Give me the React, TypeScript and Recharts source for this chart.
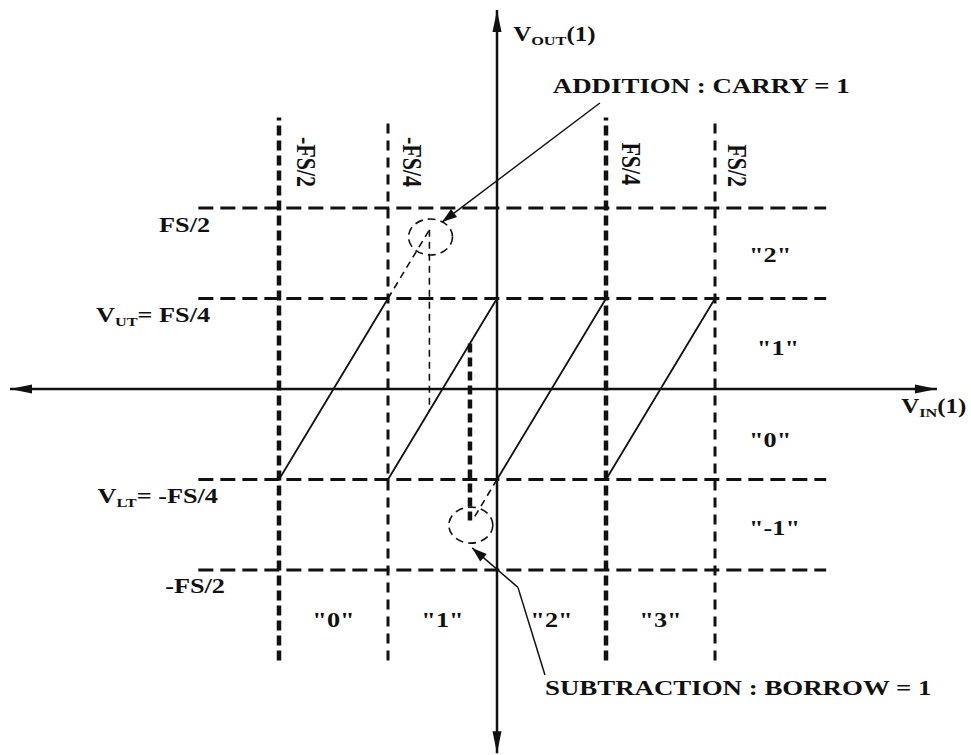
import React from 'react';
import { ComposedChart, Line, XAxis, YAxis, ReferenceLine, ReferenceDot } from 'recharts';

// All voltages in full-scale units (FS = 1)
const FS = 1;
const VLT = -FS / 4;
const VUT = FS / 4;

// Input decision thresholds and output reference levels
const vinThresholds = [-FS / 2, -FS / 4, FS / 4, FS / 2];
const vinThresholdLabels = ['-FS/2', '-FS/4', 'FS/4', 'FS/2'];
const voutLevels = [FS / 2, FS / 4, -FS / 4, -FS / 2];
const voutLevelLabels = ['FS/2', 'VUT', 'VLT', '-FS/2'];

// Residue ramps (gain 2) between VLT and VUT
const ramp1 = [{ vin: -0.5, vout: VLT }, { vin: -0.25, vout: VUT }];
const ramp2 = [{ vin: -0.25, vout: VLT }, { vin: 0, vout: VUT }];
const ramp3 = [{ vin: 0, vout: VLT }, { vin: 0.25, vout: VUT }];
const ramp4 = [{ vin: 0.25, vout: VLT }, { vin: 0.5, vout: VUT }];

// Overflow (carry) and underflow (borrow) excursions
const carryOvershoot = [{ vin: -0.25, vout: 0.25 }, { vin: -0.155, vout: 0.44 }];
const carryReturn = [{ vin: -0.155, vout: 0.44 }, { vin: -0.155, vout: -0.06 }];
const borrowUndershoot = [{ vin: 0, vout: -0.25 }, { vin: -0.055, vout: -0.36 }];
const borrowSource = [{ vin: -0.062, vout: 0.126 }, { vin: -0.062, vout: -0.37 }];
const carryCircle = { vin: -0.1525, vout: 0.42 };
const borrowCircle = { vin: -0.06, vout: -0.376 };

// Digital codes
const columnCodes = ['"0"', '"1"', '"2"', '"3"'];
const columnCodeVin = [-0.375, -0.125, 0.125, 0.375];
const rowCodes = ['"2"', '"1"', '"0"', '"-1"'];

// ---- layout ----
const W = 971;
const H = 755;
const X_DOMAIN: [number, number] = [-1.125, 1.0625];
const Y_DOMAIN: [number, number] = [-1.01, 1.06];
const MARGIN = { top: 5.28, right: 10.75, bottom: 0.38, left: 6.5 };
const INK = '#111';
const FONT = '"Liberation Serif", "Times New Roman", serif';
const STRETCH = 1.25;

const gridVStyle = [
  { w: 4.5, dash: '10 5' },
  { w: 3, dash: '10 7' },
  { w: 4.5, dash: '10 5' },
  { w: 3, dash: '10 7' },
];
const gridVExtent: [number, number] = [-0.75, 0.75];
const gridHExtent: [number, number] = [-0.685, 0.755];

const thresholdLabelPos = [
  { vin: -0.459, vout: 0.558 },
  { vin: -0.216, vout: 0.558 },
  { vin: 0.287, vout: 0.563 },
  { vin: 0.53, vout: 0.558 },
];
const levelLabelPos = [
  { vin: -0.658, vout: 0.434 },
  { vin: -0.658, vout: 0.185 },
  { vin: -0.64, vout: -0.315 },
  { vin: -0.624, vout: -0.564 },
];
const rowCodePos = [
  { vin: 0.578, vout: 0.351 },
  { vin: 0.596, vout: 0.094 },
  { vin: 0.578, vout: -0.16 },
  { vin: 0.578, vout: -0.403 },
];
const columnCodeVout = -0.657;

function headPoints(xt: number, yt: number, xf: number, yf: number, len: number, half: number) {
  const dx = xt - xf;
  const dy = yt - yf;
  const d = Math.hypot(dx, dy) || 1;
  const ux = dx / d;
  const uy = dy / d;
  const bx = xt - ux * len;
  const by = yt - uy * len;
  return `${xt},${yt} ${bx - uy * half},${by + ux * half} ${bx + uy * half},${by - ux * half}`;
}

const arrowLine = (opts: { start?: boolean; end?: boolean; len: number; half: number }) => (p: any) => {
  const { x1, y1, x2, y2, stroke, strokeWidth } = p;
  return (
    <g>
      <line x1={x1} y1={y1} x2={x2} y2={y2} stroke={stroke} strokeWidth={strokeWidth} />
      {opts.end && <polygon points={headPoints(x2, y2, x1, y1, opts.len, opts.half)} fill={stroke} />}
      {opts.start && <polygon points={headPoints(x1, y1, x2, y2, opts.len, opts.half)} fill={stroke} />}
    </g>
  );
};

const textShape =
  (content: React.ReactNode, anchor: 'start' | 'middle' | 'end', size: number, rotate = false) =>
  (p: any) => (
    <g transform={`translate(${p.cx},${p.cy}) scale(${STRETCH},1)${rotate ? ' rotate(90)' : ''}`}>
      <text
        x={0}
        y={0}
        textAnchor={anchor}
        fontFamily={FONT}
        fontWeight="bold"
        fontSize={size}
        fill={INK}
      >
        {content}
      </text>
    </g>
  );

const subscripted = (main: string, sub: string, rest: string) => (
  <>
    <tspan>{main}</tspan>
    <tspan fontSize={13} dy={4}>
      {sub}
    </tspan>
    <tspan dy={-4}>{rest}</tspan>
  </>
);

const levelLabelContent = (label: string) => {
  if (label === 'VUT') return subscripted('V', 'UT', '= FS/4');
  if (label === 'VLT') return subscripted('V', 'LT', '= -FS/4');
  return label;
};

const ellipseShape = (p: any) => (
  <ellipse
    cx={p.cx}
    cy={p.cy}
    rx={22}
    ry={18}
    fill="none"
    stroke={INK}
    strokeWidth={1.6}
    strokeDasharray="8 5"
  />
);

export default function App() {
  const rampSeries = [ramp1, ramp2, ramp3, ramp4];
  return (
    <div style={{ position: 'absolute', left: 0, top: 0, width: W, height: H, background: '#fff' }}>
      <ComposedChart width={W} height={H} margin={MARGIN}>
        <XAxis
          type="number"
          dataKey="vin"
          domain={X_DOMAIN}
          allowDataOverflow
          hide
        />
        <YAxis type="number" dataKey="vout" domain={Y_DOMAIN} allowDataOverflow hide />

        {/* grid of thresholds */}
        {vinThresholds.map((v, i) => (
          <ReferenceLine
            key={`gv${i}`}
            segment={[
              { x: v, y: gridVExtent[0] },
              { x: v, y: gridVExtent[1] },
            ]}
            stroke={INK}
            strokeWidth={gridVStyle[i].w}
            strokeDasharray={gridVStyle[i].dash}
          />
        ))}
        {voutLevels.map((v, i) => (
          <ReferenceLine
            key={`gh${i}`}
            segment={[
              { x: gridHExtent[0], y: v },
              { x: gridHExtent[1], y: v },
            ]}
            stroke={INK}
            strokeWidth={3}
            strokeDasharray="15 7"
          />
        ))}

        {/* axes with arrowheads */}
        <ReferenceLine
          segment={[
            { x: -1.117, y: 0 },
            { x: 1.009, y: 0 },
          ]}
          stroke={INK}
          strokeWidth={2.5}
          shape={arrowLine({ start: true, end: true, len: 22, half: 4.5 })}
        />
        <ReferenceLine
          segment={[
            { x: 0, y: -1.006 },
            { x: 0, y: 1.047 },
          ]}
          stroke={INK}
          strokeWidth={2.5}
          shape={arrowLine({ start: true, end: true, len: 22, half: 4.5 })}
        />

        {/* residue transfer characteristic */}
        {rampSeries.map((d, i) => (
          <Line
            key={`ramp${i}`}
            data={d}
            dataKey="vout"
            type="linear"
            stroke={INK}
            strokeWidth={1.8}
            dot={false}
            activeDot={false}
            isAnimationActive={false}
          />
        ))}
        <Line
          data={carryOvershoot}
          dataKey="vout"
          type="linear"
          stroke={INK}
          strokeWidth={1.6}
          strokeDasharray="7 5"
          dot={false}
          activeDot={false}
          isAnimationActive={false}
        />
        <Line
          data={carryReturn}
          dataKey="vout"
          type="linear"
          stroke={INK}
          strokeWidth={1.6}
          strokeDasharray="7 5"
          dot={false}
          activeDot={false}
          isAnimationActive={false}
        />
        <Line
          data={borrowUndershoot}
          dataKey="vout"
          type="linear"
          stroke={INK}
          strokeWidth={1.6}
          strokeDasharray="7 5"
          dot={false}
          activeDot={false}
          isAnimationActive={false}
        />
        <Line
          data={borrowSource}
          dataKey="vout"
          type="linear"
          stroke={INK}
          strokeWidth={4.5}
          strokeDasharray="9 5"
          dot={false}
          activeDot={false}
          isAnimationActive={false}
        />

        <ReferenceDot x={carryCircle.vin} y={carryCircle.vout} shape={ellipseShape} />
        <ReferenceDot x={borrowCircle.vin} y={borrowCircle.vout} shape={ellipseShape} />

        {/* callouts */}
        <ReferenceLine
          segment={[
            { x: 0.236, y: 0.79 },
            { x: -0.126, y: 0.461 },
          ]}
          stroke={INK}
          strokeWidth={1.5}
          shape={arrowLine({ end: true, len: 15, half: 5 })}
        />
        <ReferenceLine
          segment={[
            { x: 0.11, y: -0.79 },
            { x: 0.048, y: -0.548 },
          ]}
          stroke={INK}
          strokeWidth={1.5}
        />
        <ReferenceLine
          segment={[
            { x: 0.048, y: -0.548 },
            { x: -0.057, y: -0.439 },
          ]}
          stroke={INK}
          strokeWidth={1.5}
          shape={arrowLine({ end: true, len: 15, half: 5 })}
        />

        {/* labels */}
        {vinThresholdLabels.map((t, i) => (
          <ReferenceDot
            key={`tl${i}`}
            x={thresholdLabelPos[i].vin}
            y={thresholdLabelPos[i].vout}
            shape={textShape(t, 'end', 22, true)}
          />
        ))}
        {voutLevelLabels.map((t, i) => (
          <ReferenceDot
            key={`ll${i}`}
            x={levelLabelPos[i].vin}
            y={levelLabelPos[i].vout}
            shape={textShape(levelLabelContent(t), 'end', 21)}
          />
        ))}
        {columnCodes.map((t, i) => (
          <ReferenceDot
            key={`cc${i}`}
            x={columnCodeVin[i]}
            y={columnCodeVout}
            shape={textShape(t, 'middle', 21)}
          />
        ))}
        {rowCodes.map((t, i) => (
          <ReferenceDot
            key={`rc${i}`}
            x={rowCodePos[i].vin}
            y={rowCodePos[i].vout}
            shape={textShape(t, 'start', 21)}
          />
        ))}
        <ReferenceDot x={0.037} y={0.961} shape={textShape(subscripted('V', 'OUT', '(1)'), 'start', 20)} />
        <ReferenceDot x={0.927} y={-0.066} shape={textShape(subscripted('V', 'IN', '(1)'), 'start', 20)} />
        <ReferenceDot x={0.128} y={0.818} shape={textShape('ADDITION : CARRY = 1', 'start', 21.5)} />
        <ReferenceDot x={0.11} y={-0.845} shape={textShape('SUBTRACTION : BORROW = 1', 'start', 21.5)} />
      </ComposedChart>
    </div>
  );
}
